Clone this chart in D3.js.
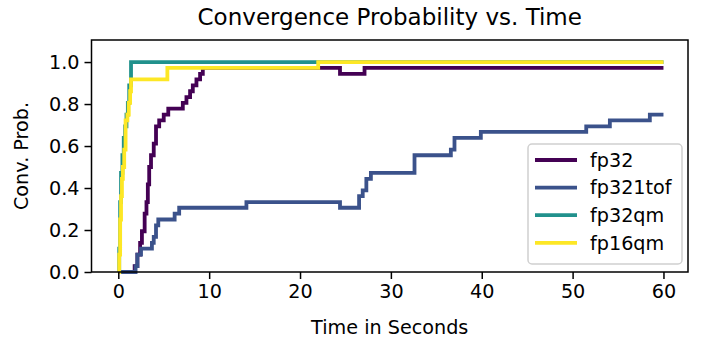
<!DOCTYPE html>
<html lang="en">
  <head>
    <meta charset="utf-8">
    <title>Convergence Probability vs. Time</title>
    <script src="https://cdn.jsdelivr.net/npm/d3@7"></script>
    <style>
      body { margin: 0; background: #fff; }
      text { font-family: "DejaVu Sans", sans-serif; fill: #000; }
    </style>
  </head>
  <body>
    <svg width="708" height="342" id="mainsvg"></svg>
    <script>
      // series names (legend order = draw order)
      const names = ['fp32', 'fp321tof', 'fp32qm', 'fp16qm'];
      const colors = ['#440154', '#3b528b', '#21918c', '#fde725'];

      // step data: time in seconds, convergence probability
      const fp32T = [0, 1.8, 2.1, 2.4, 2.6, 2.9, 3.1, 3.25, 3.4, 3.6, 3.9, 4.15, 4.5, 5.0, 5.5, 7.1, 7.5, 7.9, 8.2, 8.6, 9.0, 9.3, 24.4, 27.1, 60];
      const fp32V = [0, 0.028, 0.083, 0.139, 0.194, 0.278, 0.333, 0.417, 0.5, 0.556, 0.611, 0.694, 0.722, 0.75, 0.778, 0.806, 0.833, 0.861, 0.889, 0.917, 0.944, 0.972, 0.944, 0.972, 0.972];

      const tofT = [0, 1.9, 2.1, 2.5, 3.7, 3.9, 4.15, 4.4, 6.2, 6.7, 14.1, 24.4, 26.5, 26.9, 27.3, 27.8, 32.6, 36.6, 37.0, 39.9, 51.5, 54.1, 58.5, 60];
      const tofV = [0, 0.028, 0.083, 0.111, 0.139, 0.167, 0.222, 0.25, 0.278, 0.306, 0.333, 0.306, 0.361, 0.389, 0.444, 0.472, 0.556, 0.583, 0.639, 0.667, 0.694, 0.722, 0.75, 0.75];

      const qm32T = [0, 0.1, 0.2, 0.3, 0.45, 0.6, 0.75, 0.9, 1.05, 1.2, 1.4, 60];
      const qm32V = [0, 0.111, 0.333, 0.472, 0.556, 0.639, 0.694, 0.75, 0.806, 0.889, 1.0, 1.0];

      const qm16T = [0, 0.1, 0.2, 0.3, 0.4, 0.5, 0.65, 0.8, 1.0, 1.15, 1.3, 1.4, 5.4, 22.0, 60];
      const qm16V = [0, 0.083, 0.25, 0.361, 0.444, 0.5, 0.583, 0.722, 0.75, 0.806, 0.861, 0.917, 0.972, 1.0, 1.0];

      const xTicks = [0, 10, 20, 30, 40, 50, 60];
      const yTicks = [0, 0.2, 0.4, 0.6, 0.8, 1.0];

      const series = [
        { name: names[0], t: fp32T, v: fp32V },
        { name: names[1], t: tofT, v: tofV },
        { name: names[2], t: qm32T, v: qm32V },
        { name: names[3], t: qm16T, v: qm16V },
      ];

      const svg = d3.select('#mainsvg');
      const width = +svg.attr('width');
      const height = +svg.attr('height');
      const margin = { top: 40, right: 20, bottom: 70, left: 91.5 };
      const innerWidth = width - margin.left - margin.right;
      const innerHeight = height - margin.top - margin.bottom;

      const xScale = d3.scaleLinear().domain([-2.95, 62.7]).range([0, innerWidth]);
      const yScale = d3.scaleLinear().domain([0, 1.105]).range([innerHeight, 0]);
      const color = d3.scaleOrdinal().domain(names).range(colors);

      const g = svg.append('g')
        .attr('transform', `translate(${margin.left}, ${margin.top})`);

      // lines
      const line = d3.line()
        .x(d => xScale(d[0]))
        .y(d => yScale(d[1]))
        .curve(d3.curveStepAfter);

      series.forEach(s => {
        g.append('path')
          .datum(d3.zip(s.t, s.v))
          .attr('d', line)
          .attr('fill', 'none')
          .attr('stroke', color(s.name))
          .attr('stroke-width', 3.8);
      });

      // axes
      const xAxis = d3.axisBottom(xScale).tickValues(xTicks).tickSize(7).tickPadding(5).tickSizeOuter(0);
      const yAxis = d3.axisLeft(yScale).tickValues(yTicks).tickSize(7).tickPadding(5).tickSizeOuter(0)
        .tickFormat(d3.format('.1f'));

      const gx = g.append('g').attr('transform', `translate(0, ${innerHeight})`).call(xAxis);
      const gy = g.append('g').call(yAxis);
      [gx, gy].forEach(a => {
        a.select('.domain').remove();
        a.selectAll('.tick line').attr('stroke', '#000').attr('stroke-width', 1.5);
        a.selectAll('.tick text').attr('font-size', '19.2px').attr('font-family', 'DejaVu Sans').attr('fill', '#000');
      });

      // frame
      g.append('rect')
        .attr('width', innerWidth)
        .attr('height', innerHeight)
        .attr('fill', 'none')
        .attr('stroke', '#000')
        .attr('stroke-width', 1.5);

      // labels
      svg.append('text').text('Convergence Probability vs. Time')
        .attr('x', margin.left + innerWidth / 2)
        .attr('y', 25)
        .attr('text-anchor', 'middle')
        .attr('font-size', '23px');

      svg.append('text').text('Time in Seconds')
        .attr('x', margin.left + innerWidth / 2)
        .attr('y', 334)
        .attr('text-anchor', 'middle')
        .attr('font-size', '19.2px');

      svg.append('text').text('Conv. Prob.')
        .attr('transform', `translate(28, ${margin.top + innerHeight / 2}) rotate(-90)`)
        .attr('text-anchor', 'middle')
        .attr('font-size', '19.2px');

      // legend
      const lg = svg.append('g').attr('transform', 'translate(528, 144)');
      lg.append('rect')
        .attr('width', 154)
        .attr('height', 120)
        .attr('rx', 4)
        .attr('fill', '#fff')
        .attr('fill-opacity', 0.8)
        .attr('stroke', '#d0d0d0')
        .attr('stroke-width', 1.5);

      names.forEach((n, i) => {
        const y = 16 + i * 27.6;
        lg.append('line')
          .attr('x1', 7).attr('x2', 49)
          .attr('y1', y).attr('y2', y)
          .attr('stroke', color(n))
          .attr('stroke-width', 3.8);
        lg.append('text').text(n)
          .attr('x', 62)
          .attr('y', y)
          .attr('dy', '0.35em')
          .attr('font-size', '19.2px');
      });
    </script>
  </body>
</html>
